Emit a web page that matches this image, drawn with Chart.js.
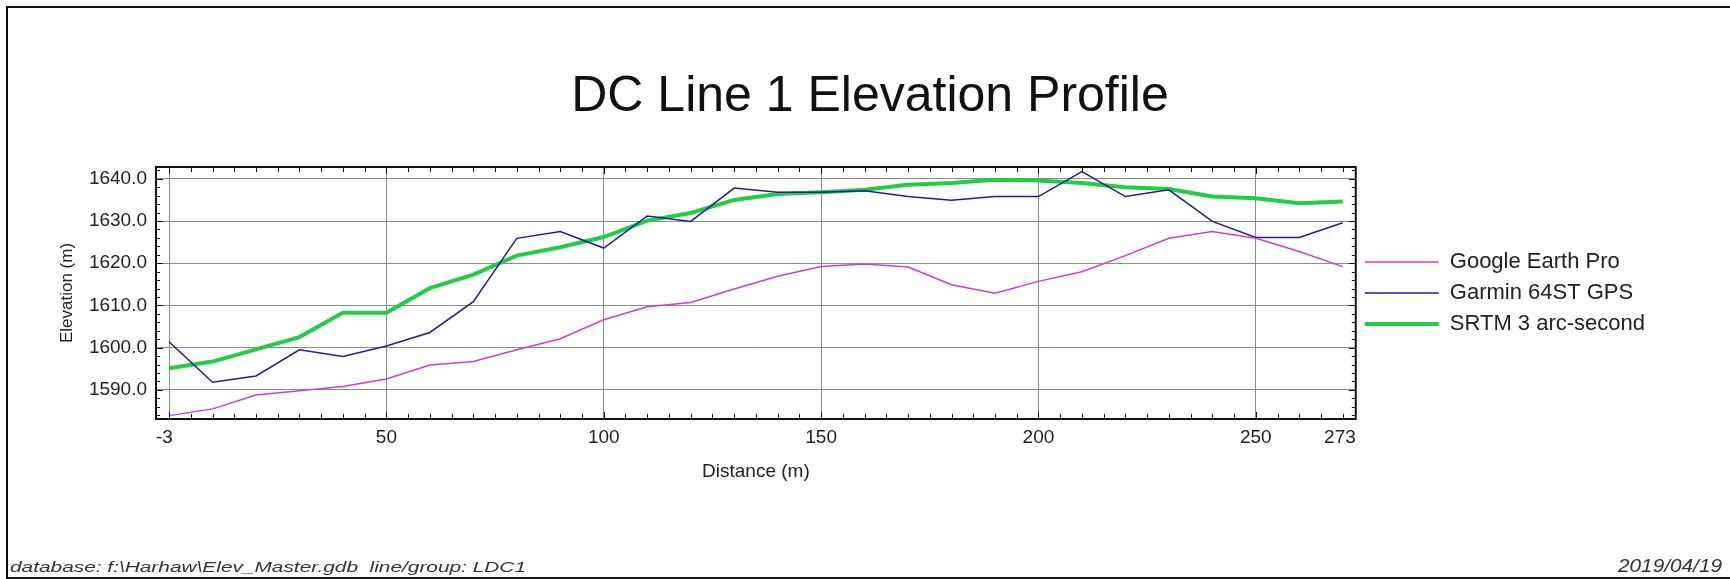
<!DOCTYPE html>
<html>
<head>
<meta charset="utf-8">
<title>DC Line 1 Elevation Profile</title>
<script src="https://cdn.jsdelivr.net/npm/chart.js"></script>
<style>
  html, body { margin: 0; padding: 0; background: #fff; }
  canvas { display: block; }
</style>
</head>
<body>
<canvas id="profile" width="1730" height="579"></canvas>
<script>
// distance along the line (m), one sample every 10 m
const distance = [0, 10, 20, 30, 40, 50, 60, 70, 80, 90, 100, 110, 120, 130,
                  140, 150, 160, 170, 180, 190, 200, 210, 220, 230, 240, 250, 260, 270];

// elevations (m) for each source
const googleEarth = [1583.9, 1585.5, 1588.8, 1589.8, 1590.8, 1592.6, 1595.9, 1596.7, 1599.5, 1602.1,
                     1606.6, 1609.7, 1610.7, 1613.9, 1616.9, 1619.2, 1619.8, 1619.1, 1614.9, 1612.9,
                     1615.7, 1618.0, 1621.8, 1625.9, 1627.5, 1625.9, 1622.8, 1619.2];
const garmin = [1601.4, 1591.8, 1593.3, 1599.5, 1597.9, 1600.4, 1603.6, 1610.9, 1625.9, 1627.5,
                1623.6, 1631.2, 1629.9, 1637.8, 1636.8, 1636.8, 1637.2, 1635.8, 1634.9, 1635.8,
                1635.8, 1641.7, 1635.8, 1637.4, 1629.9, 1626.1, 1626.1, 1629.6];
const srtm = [1595.1, 1596.7, 1599.6, 1602.5, 1608.3, 1608.3, 1614.1, 1617.3, 1621.8, 1623.8,
              1626.2, 1630.1, 1631.9, 1635.0, 1636.4, 1636.8, 1637.4, 1638.6, 1639.0, 1639.8,
              1639.6, 1639.0, 1638.0, 1637.6, 1635.8, 1635.4, 1634.2, 1634.6];

const seriesNames = ['Google Earth Pro', 'Garmin 64ST GPS', 'SRTM 3 arc-second'];

// axis ends and labelled ticks
const xRange = [-3, 273];
const xTickValues = [-3, 0, 50, 100, 150, 200, 250, 273];
const yRange = [1583.1, 1642.8];
const yTickValues = [1590, 1600, 1610, 1620, 1630, 1640];

const footerLeft = 'database: f:\\Harhaw\\Elev_Master.gdb  line/group: LDC1';
const footerDate = '2019/04/19';

const FONT = "'Liberation Sans', Arial, sans-serif";
Chart.defaults.font.family = FONT;
Chart.defaults.color = '#222';

const toPoints = vals => vals.map((v, i) => ({x: distance[i], y: v}));

// stretch a line of text to a given width
function fitText(ctx, text, x, y, width, align) {
  const sx = width / ctx.measureText(text).width;
  ctx.save();
  ctx.translate(align === 'right' ? x - width : x, y);
  ctx.scale(sx, 1);
  ctx.fillText(text, 0, 0);
  ctx.restore();
}

// plot box with inward minor ticks
const plotFrame = {
  id: 'plotFrame',
  afterDatasetsDraw(chart) {
    const {ctx, chartArea: a, scales: {x, y}} = chart;
    ctx.save();
    ctx.strokeStyle = '#111';
    ctx.lineWidth = 1;
    ctx.beginPath();
    for (let d = 0; d <= 270; d += 5) {
      const px = Math.round(x.getPixelForValue(d)) + 0.5;
      const len = d % 50 === 0 ? 7 : 5;
      ctx.moveTo(px, a.top); ctx.lineTo(px, a.top + len);
      ctx.moveTo(px, a.bottom); ctx.lineTo(px, a.bottom - len);
    }
    for (let v = 1584; v <= 1642; v += 2) {
      const py = Math.round(y.getPixelForValue(v)) + 0.5;
      const len = v % 10 === 0 ? 7 : 4;
      ctx.moveTo(a.left, py); ctx.lineTo(a.left + len, py);
      ctx.moveTo(a.right, py); ctx.lineTo(a.right - len, py);
    }
    ctx.stroke();
    ctx.lineWidth = 2;
    ctx.strokeRect(a.left, a.top, a.right - a.left, a.bottom - a.top);
    ctx.restore();
  }
};

// page border and footer notes
const pageDecor = {
  id: 'pageDecor',
  afterDraw(chart) {
    const ctx = chart.ctx;
    const w = chart.width;
    ctx.save();
    ctx.strokeStyle = '#111';
    ctx.lineWidth = 2;
    ctx.beginPath();
    ctx.moveTo(w, 7); ctx.lineTo(7, 7); ctx.lineTo(7, 578); ctx.lineTo(w, 578);
    ctx.stroke();
    ctx.fillStyle = '#333';
    ctx.textBaseline = 'alphabetic';
    ctx.font = 'italic 15px ' + FONT;
    fitText(ctx, footerLeft, 10, 572, 516, 'left');
    ctx.font = 'italic 18px ' + FONT;
    fitText(ctx, footerDate, 1722, 572, 104, 'right');
    ctx.restore();
  }
};

new Chart(document.getElementById('profile'), {
  type: 'line',
  data: {
    datasets: [{
      label: seriesNames[0],
      data: toPoints(googleEarth),
      borderColor: '#d23cd2',
      backgroundColor: '#d23cd2',
      borderWidth: 1.5
    }, {
      label: seriesNames[1],
      data: toPoints(garmin),
      borderColor: '#1c1ca6',
      backgroundColor: '#1c1ca6',
      borderWidth: 1.5
    }, {
      label: seriesNames[2],
      data: toPoints(srtm),
      borderColor: '#22cc44',
      backgroundColor: '#22cc44',
      borderWidth: 4
    }]
  },
  options: {
    responsive: false,
    animation: false,
    events: [],
    elements: {
      point: {radius: 0, hoverRadius: 0},
      line: {tension: 0}
    },
    layout: {padding: {top: 0, left: 85, right: 75, bottom: 83.4}},
    scales: {
      x: {
        type: 'linear',
        min: xRange[0],
        max: xRange[1],
        afterBuildTicks: s => { s.ticks = xTickValues.map(v => ({value: v})); },
        ticks: {
          autoSkip: false,
          maxRotation: 0,
          align: 'inner',
          padding: 7,
          color: '#222',
          font: {size: 19},
          callback: v => (v === 0 ? '' : v)
        },
        grid: {color: '#8c8c8c', lineWidth: 1, drawTicks: false},
        border: {display: false},
        title: {
          display: true,
          text: 'Distance (m)',
          color: '#222',
          font: {size: 19},
          padding: {top: 5, bottom: 12}
        }
      },
      y: {
        type: 'linear',
        min: yRange[0],
        max: yRange[1],
        afterBuildTicks: s => { s.ticks = yTickValues.map(v => ({value: v})); },
        afterFit: s => { s.width = 71; },
        ticks: {
          padding: 9,
          color: '#222',
          font: {size: 19},
          callback: v => v.toFixed(1)
        },
        grid: {color: '#8c8c8c', lineWidth: 1, drawTicks: false},
        border: {display: false},
        title: {
          display: true,
          text: 'Elevation (m)',
          color: '#222',
          font: {size: 17},
          padding: {top: -28, bottom: 12}
        }
      }
    },
    plugins: {
      title: {
        display: true,
        text: 'DC Line 1 Elevation Profile',
        color: '#111',
        font: {size: 50, weight: 'normal'},
        padding: {top: 67, bottom: 40}
      },
      legend: {
        position: 'right',
        fullSize: false,
        labels: {
          usePointStyle: true,
          pointStyle: 'line',
          pointStyleWidth: 74,
          padding: 9,
          color: '#222',
          font: {size: 22}
        }
      },
      tooltip: {enabled: false}
    }
  },
  plugins: [plotFrame, pageDecor]
});
</script>
</body>
</html>
